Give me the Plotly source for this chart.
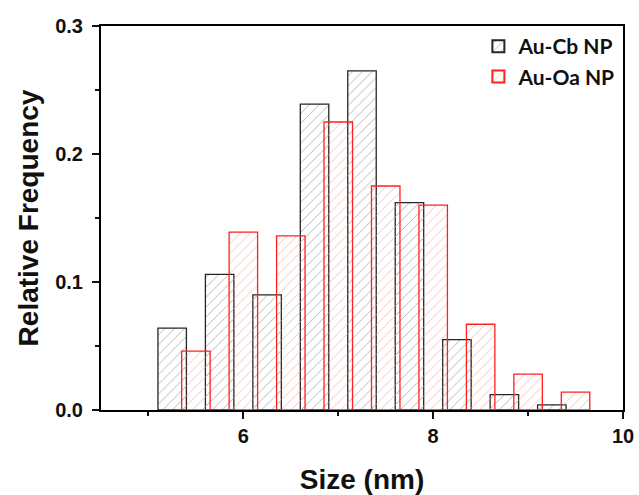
import plotly.graph_objects as go

# Bin centres (nm) and relative frequencies for the two nanoparticle samples
cb_size = [5.25, 5.75, 6.25, 6.75, 7.25, 7.75, 8.25, 8.75, 9.25]
cb_freq = [0.064, 0.106, 0.090, 0.239, 0.265, 0.162, 0.055, 0.012, 0.004]

oa_size = [5.5, 6.0, 6.5, 7.0, 7.5, 8.0, 8.5, 9.0, 9.5]
oa_freq = [0.046, 0.139, 0.136, 0.225, 0.175, 0.160, 0.067, 0.028, 0.014]

bar_width = 0.3

fig = go.Figure()
fig.add_trace(go.Bar(
    x=cb_size, y=cb_freq, width=bar_width, name="Au-Cb NP",
    marker=dict(
        color="rgba(0,0,0,0)",
        line=dict(color="#262626", width=1.3),
        pattern=dict(shape="/", fgcolor="#9a9a9a", bgcolor="rgba(0,0,0,0)",
                     size=7, solidity=0.1, fillmode="replace"),
    ),
))
fig.add_trace(go.Bar(
    x=oa_size, y=oa_freq, width=bar_width, name="Au-Oa NP",
    marker=dict(
        color="rgba(0,0,0,0)",
        line=dict(color="#ff2020", width=1.3),
        pattern=dict(shape="/", fgcolor="#f5a8a8", bgcolor="rgba(0,0,0,0)",
                     size=7, solidity=0.1, fillmode="replace"),
    ),
))

sans = "Liberation Sans, Arial, sans-serif"
tick_font = dict(family=sans, size=20, color="#111111", weight="bold")
title_font = dict(family=sans, size=28, color="#111111", weight="bold")

fig.update_layout(
    width=639, height=495,
    margin=dict(l=101, r=16, t=26, b=85),
    paper_bgcolor="white", plot_bgcolor="white",
    barmode="overlay",
    showlegend=True,
    legend=dict(
        x=0.995, y=1.0, xanchor="right", yanchor="top",
        bgcolor="rgba(0,0,0,0)",
        font=dict(family="Lato, sans-serif", size=21, color="#111111", weight="bold"),
        itemsizing="constant", tracegroupgap=0,
    ),
    xaxis=dict(
        range=[4.5, 10], tick0=0, dtick=2, automargin=False,
        ticks="outside", ticklen=7, tickwidth=1.5, tickcolor="#111111",
        minor=dict(ticks="outside", dtick=1, ticklen=4, tickwidth=1.5, tickcolor="#111111"),
        showline=True, linecolor="#000000", linewidth=2, mirror=True,
        showgrid=False, zeroline=False,
        tickfont=tick_font,
        title=dict(text="Size (nm)", standoff=26, font=title_font),
    ),
    yaxis=dict(
        range=[0, 0.3], tick0=0, dtick=0.1, tickformat=".1f", automargin=False,
        ticks="outside", ticklen=7, tickwidth=1.5, tickcolor="#111111",
        minor=dict(ticks="outside", dtick=0.05, ticklen=4, tickwidth=1.5, tickcolor="#111111"),
        showline=True, linecolor="#000000", linewidth=2, mirror=True,
        showgrid=False, zeroline=False,
        tickfont=tick_font,
        ticklabelstandoff=5,
        title=dict(text="Relative Frequency", standoff=8, font=title_font),
    ),
)

fig.write_html("out.html")
